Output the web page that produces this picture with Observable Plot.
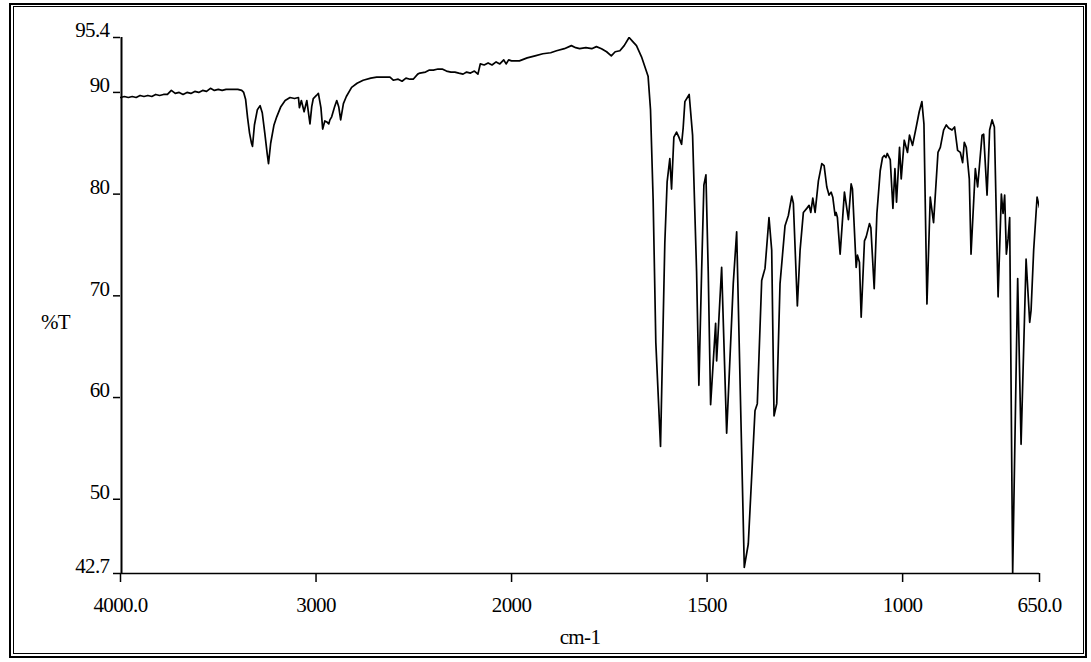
<!DOCTYPE html>
<html>
<head>
<meta charset="utf-8">
<script src="https://cdn.jsdelivr.net/npm/d3@7"></script>
<script src="https://cdn.jsdelivr.net/npm/@observablehq/plot@0.6"></script>
<style>
  html, body { margin: 0; padding: 0; background: #fff; }
  #wrap { position: relative; width: 1091px; height: 662px; overflow: hidden; background: #fff; }
  #outer { position: absolute; left: 9px; top: 3px; width: 1078px; height: 655px; border: 2.5px solid #000; box-sizing: border-box; }
  #inner { position: absolute; left: 13px; top: 6px; width: 1071px; height: 648px; border: 1px solid #000; box-sizing: border-box; }
  #chart { position: absolute; left: 0; top: 0; }
</style>
</head>
<body>
<div id="wrap">
  <div id="outer"></div>
  <div id="inner"></div>
  <div id="chart"></div>
</div>
<script>
// Wavenumbers (cm-1)
const wavenumbers = [
  4000, 3980, 3960, 3940, 3920, 3900, 3880, 3860, 3840, 3820, 3800, 3780, 3760, 3740, 3720, 3700,
  3680, 3660, 3640, 3620, 3600, 3580, 3560, 3540, 3520, 3500, 3480, 3460, 3440, 3420, 3400, 3380,
  3370, 3360, 3350, 3340, 3330, 3325, 3315, 3300, 3286, 3275, 3262, 3250, 3243, 3232, 3215, 3201,
  3180, 3158, 3133, 3110, 3090, 3085, 3075, 3061, 3047, 3031, 3022, 3014, 2998, 2988, 2975, 2966,
  2955, 2945, 2935, 2929, 2920, 2905, 2894, 2884, 2874, 2860, 2845, 2818, 2790, 2759, 2720, 2690,
  2660, 2622, 2605, 2580, 2560, 2540, 2520, 2503, 2480, 2469, 2440, 2420, 2400, 2376, 2355, 2333,
  2310, 2290, 2270, 2248, 2230, 2210, 2190, 2172, 2160, 2140, 2120, 2100, 2079, 2060, 2040, 2028,
  2015, 2000, 1980, 1960, 1940, 1920, 1900, 1885, 1865, 1847, 1836, 1826, 1810, 1795, 1783, 1770,
  1757, 1745, 1735, 1723, 1712, 1699.5, 1690, 1680.6, 1667.7, 1650.9, 1644.7, 1638, 1631.1, 1619.1,
  1608.1, 1602.2, 1595.3, 1590.9, 1585, 1578.1, 1572.2, 1565.3, 1561.2, 1556.8, 1545.8, 1537.1,
  1526.9, 1521, 1514, 1508.2, 1503, 1497.1, 1491, 1478.2, 1475.6, 1462.8, 1450, 1433.1, 1424.4,
  1404.9, 1394.7, 1377.5, 1371.6, 1360.4, 1351.9, 1341.7, 1334.8, 1328.8, 1321.9, 1313.5, 1300.7,
  1292.2, 1283.5, 1279.4, 1269.2, 1262.2, 1253.8, 1245.1, 1239.2, 1234.8, 1229.7, 1223.8, 1215.4,
  1206.7, 1200.8, 1193.9, 1188, 1182.9, 1178.6, 1172.7, 1170.1, 1166.8, 1159.8, 1148.8, 1138.6,
  1131.7, 1128.3, 1118.8, 1115.5, 1110.4, 1106, 1097.6, 1093.2, 1084.8, 1081.2, 1072.7, 1065.8,
  1057.3, 1051.4, 1047, 1042.7, 1039.4, 1031.7, 1024.8, 1019.7, 1015.6, 1007.9, 1003.6, 995.9,
  987.5, 982.4, 974.7, 965.2, 957.6, 950.7, 945.5, 937.8, 929.4, 920.9, 909.6, 903.6, 895.2, 888.3,
  882.4, 873.7, 867.1, 859.4, 852.5, 846.6, 842.3, 837.2, 829.5, 825.1, 814.1, 808.2, 796.9, 792.8,
  784.1, 777.5, 771.3, 765.4, 755.9, 747.5, 743.2, 739.1, 734.7, 730.4, 726.3, 718.6, 705.8, 697.1,
  684.3, 675.1, 671.5, 664.9, 656.2, 650.2
];
// Transmittance (%T)
const transmittance = [
  89.5, 89.6, 89.5, 89.6, 89.5, 89.7, 89.6, 89.7, 89.6, 89.8, 89.7, 89.8, 89.8, 90.2, 89.9, 90.0,
  89.8, 90.0, 89.9, 90.1, 90.0, 90.2, 90.1, 90.4, 90.2, 90.3, 90.2, 90.3, 90.3, 90.3, 90.3, 90.2,
  90.0, 89.3, 87.5, 86.0, 85.0, 84.7, 86.8, 88.3, 88.7, 88.0, 86.0, 84.0, 83.0, 85.0, 86.8, 87.6,
  88.6, 89.2, 89.5, 89.4, 89.5, 88.5, 89.2, 88.1, 89.2, 86.9, 88.6, 89.4, 89.7, 89.9, 88.5, 86.4,
  87.2, 87.1, 86.9, 87.3, 87.6, 88.6, 89.2, 88.6, 87.3, 88.9, 89.6, 90.5, 90.9, 91.2, 91.4, 91.5,
  91.5, 91.5, 91.2, 91.3, 91.1, 91.4, 91.3, 91.3, 91.8, 91.9, 92.0, 92.2, 92.2, 92.3, 92.3, 92.1,
  92.0, 92.0, 91.9, 91.8, 92.0, 91.9, 92.1, 91.8, 92.8, 92.7, 92.9, 92.7, 93.0, 92.8, 93.2, 92.8,
  93.2, 93.1, 93.1, 93.4, 93.6, 93.8, 93.9, 94.1, 94.3, 94.6, 94.4, 94.3, 94.4, 94.3, 94.5, 94.3,
  94.0, 93.6, 94.0, 94.1, 94.6, 95.4, 95.0, 94.6, 93.5, 91.6, 88.3, 79.5, 65.4, 55.2,
  75.2, 81.2, 83.5, 80.5, 85.6, 86.1, 85.6, 84.9, 86.5, 89.1, 89.8, 85.8,
  72.4, 61.2, 72.4, 80.9, 81.9, 72.4, 59.3, 67.3, 63.6, 72.8, 56.5, 71.2, 76.3,
  43.3, 45.6, 58.7, 59.4, 71.5, 72.7, 77.7, 74.5, 58.2, 59.4, 71.2, 76.9,
  77.9, 79.8, 79.1, 69.0, 74.5, 78.2, 78.6, 78.9, 78.2, 79.6, 78.2, 81.3,
  83.0, 82.8, 80.7, 79.9, 80.2, 79.7, 77.9, 78.2, 77.7, 74.1, 80.2, 77.5,
  81.0, 80.5, 72.8, 74.0, 73.3, 67.9, 75.4, 75.8, 77.1, 76.7, 70.7, 78.1,
  82.3, 83.6, 83.8, 83.6, 84.0, 83.4, 78.6, 82.5, 79.2, 84.6, 81.5, 85.3,
  84.1, 85.8, 84.8, 86.6, 88.1, 89.1, 86.9, 69.2, 79.7, 77.2, 84.1, 84.6, 86.3, 86.8,
  86.5, 86.3, 86.6, 84.3, 84.1, 83.1, 85.1, 84.6, 81.5, 74.1, 82.5, 80.7, 85.8, 85.9,
  79.9, 86.3, 87.3, 86.6, 69.9, 80.0, 78.1, 79.9, 74.1, 75.6, 77.7, 42.7, 71.7, 55.4,
  73.6, 67.4, 68.6, 74.5, 79.7, 78.7
];
// Axis ticks and labels
const xTickValues = [4000, 3000, 2000, 1500, 1000, 650];
const xTickLabels = ["4000.0", "3000", "2000", "1500", "1000", "650.0"];
const yTickValues = [95.4, 90, 80, 70, 60, 50, 42.7];
const yTickLabels = ["95.4", "90", "80", "70", "60", "50", "42.7"];
// The instrument plots 4000-2000 cm-1 at half the scale of 2000-650 cm-1
const xBreaks = [4000, 2000, 650];
const xBreakUnits = [0, 1000, 2350];
const xTitle = "cm-1";
const yTitle = "%T";

// piecewise wavenumber axis (D3 scale), fed to Plot's linear x scale
const wnToAxis = d3.scaleLinear().domain(xBreaks).range(xBreakUnits);
const spectrum = wavenumbers.map((w, i) => ({u: wnToAxis(w), t: transmittance[i]}));
const xTickPos = xTickValues.map(wnToAxis);
const xLabelOf = new Map(xTickPos.map((u, i) => [u, xTickLabels[i]]));
const yLabelOf = new Map(yTickValues.map((v, i) => [v, yTickLabels[i]]));
const yMin = yTickValues[yTickValues.length - 1];
const yMax = yTickValues[0];

const font = "'Liberation Serif', 'Times New Roman', Times, serif";

const chart = Plot.plot({
  width: 1091,
  height: 662,
  marginLeft: 120,
  marginRight: 52,
  marginTop: 37,
  marginBottom: 89,
  style: {fontFamily: font, fontSize: "21px", background: "transparent", color: "#000", overflow: "visible", letterSpacing: "-0.6px"},
  x: {domain: [xBreakUnits[0], xBreakUnits[2]]},
  y: {domain: [yMin, yMax]},
  marks: [
    // axis lines (bottom and left edges of the plot area)
    Plot.ruleY([yMin], {stroke: "#000", strokeWidth: 1.5}),
    Plot.ruleX([xBreakUnits[0]], {y1: yMin, y2: yMax, dx: 1, stroke: "#000", strokeWidth: 2}),
    Plot.axisX({ticks: xTickPos, tickFormat: d => xLabelOf.get(d), tickSize: 9, tickPadding: 15,
      label: null, fontSize: 21, strokeWidth: 1.5}),
    Plot.axisY({ticks: yTickValues, tickFormat: () => "", tickSize: 7, label: null, strokeWidth: 1.5}),
    Plot.axisY({ticks: yTickValues, tickFormat: d => yLabelOf.get(d), tickSize: 0, tickPadding: 11,
      label: null, fontSize: 21, dy: -7}),
    Plot.line(spectrum, {x: "u", y: "t", stroke: "#000", strokeWidth: 1.7, clip: true}),
    Plot.text([yTitle], {frameAnchor: "left", textAnchor: "middle", dx: -65, dy: 17, fontSize: 21, text: d => d}),
    Plot.text([xTitle], {frameAnchor: "bottom", textAnchor: "middle", dy: 70, fontSize: 21, text: d => d})
  ]
});
document.getElementById("chart").appendChild(chart);
</script>
</body>
</html>
